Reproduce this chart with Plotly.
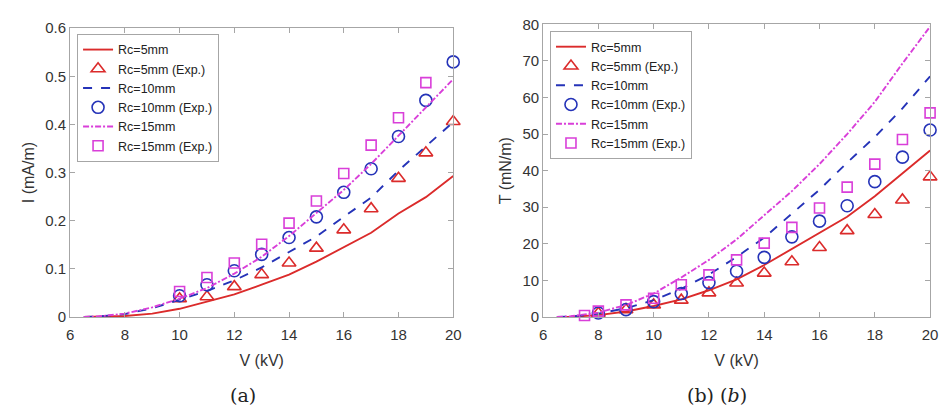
import plotly.graph_objects as go

# ---------------- data ----------------
v_line = [6.5, 7, 8, 9, 10, 11, 12, 13, 14, 15, 16, 17, 18, 19, 20]
I_rc5 = [0, 0.0005, 0.002, 0.007, 0.017, 0.032, 0.047, 0.067, 0.088, 0.115, 0.145, 0.175, 0.215, 0.249, 0.293]
I_rc10 = [0, 0.001, 0.006, 0.018, 0.036, 0.054, 0.076, 0.103, 0.135, 0.167, 0.208, 0.248, 0.304, 0.354, 0.405]
I_rc15 = [0, 0.001, 0.007, 0.02, 0.038, 0.06, 0.09, 0.125, 0.168, 0.215, 0.264, 0.318, 0.377, 0.437, 0.494]

v_expI = [10, 11, 12, 13, 14, 15, 16, 17, 18, 19, 20]
I_rc5_exp = [0.038, 0.042, 0.063, 0.088, 0.112, 0.143, 0.181, 0.225, 0.288, 0.341, 0.406]
I_rc10_exp = [0.044, 0.067, 0.096, 0.13, 0.165, 0.208, 0.259, 0.308, 0.375, 0.45, 0.53]
v_expI15 = [10, 11, 12, 13, 14, 15, 16, 17, 18, 19]
I_rc15_exp = [0.053, 0.082, 0.112, 0.151, 0.195, 0.241, 0.298, 0.357, 0.414, 0.487]

T_rc5 = [0, 0.05, 0.5, 1.5, 3.0, 4.8, 7.3, 10.3, 14.2, 18.6, 23.0, 27.4, 33.0, 39.2, 45.5]
T_rc10 = [0, 0.1, 0.9, 2.4, 4.6, 7.7, 11.6, 16.4, 21.7, 28.2, 34.8, 42.2, 49.2, 57.0, 65.8]
T_rc15 = [0, 0.2, 1.2, 3.3, 6.4, 10.8, 15.6, 21.2, 27.8, 34.4, 41.8, 50.0, 58.8, 69.3, 79.4]

v_expT = [8, 9, 10, 11, 12, 13, 14, 15, 16, 17, 18, 19, 20]
T_rc5_exp = [1.0, 2.0, 3.3, 4.6, 6.6, 9.3, 12.0, 15.1, 19.0, 23.6, 28.0, 32.0, 38.3]
T_rc10_exp = [1.1, 2.0, 4.2, 6.4, 9.4, 12.5, 16.3, 21.9, 26.2, 30.4, 37.0, 43.7, 51.1]
v_expT15 = [7.5, 8, 9, 10, 11, 12, 13, 14, 15, 16, 17, 18, 19, 20]
T_rc15_exp = [0.4, 1.6, 3.3, 5.1, 8.8, 11.5, 15.6, 20.2, 24.5, 29.8, 35.5, 41.8, 48.5, 55.8]

names = ["Rc=5mm", "Rc=5mm (Exp.)", "Rc=10mm", "Rc=10mm (Exp.)", "Rc=15mm", "Rc=15mm (Exp.)"]
x_ticks = [6, 8, 10, 12, 14, 16, 18, 20]

RED = "#db2b2b"
BLUE = "#2533b8"
MAG = "#d93fd9"

fig = go.Figure()

def add_panel(xa, ya, leg, ylines, yexps, xexps):
    styles = [(RED, "solid"), (BLUE, "dash"), (MAG, "6px,2px,2px,2px")]
    symbols = ["triangle-up-open", "circle-open", "square-open"]
    sizes = [12, 12, 10]
    for i in range(3):
        c, d = styles[i]
        fig.add_trace(go.Scatter(x=v_line, y=ylines[i], mode="lines", name=names[2 * i],
                                 line=dict(color=c, width=1.9, dash=d),
                                 xaxis=xa, yaxis=ya, legend=leg))
        fig.add_trace(go.Scatter(x=xexps[i], y=yexps[i], mode="markers", name=names[2 * i + 1],
                                 marker=dict(symbol=symbols[i], size=sizes[i], color=c,
                                             line=dict(color=c, width=1.6)),
                                 cliponaxis=False, xaxis=xa, yaxis=ya, legend=leg))

add_panel("x", "y", "legend", [I_rc5, I_rc10, I_rc15],
          [I_rc5_exp, I_rc10_exp, I_rc15_exp], [v_expI, v_expI, v_expI15])
add_panel("x2", "y2", "legend2", [T_rc5, T_rc10, T_rc15],
          [T_rc5_exp, T_rc10_exp, T_rc15_exp], [v_expT, v_expT, v_expT15])

W, H = 945, 419
axcol = "#a6a6a6"
tickfont = dict(family="Liberation Sans, Arial", size=15, color="#333333")
titlefont = dict(family="Liberation Sans, Arial", size=16, color="#333333")
common = dict(showline=True, linecolor=axcol, linewidth=1, mirror="ticks", ticks="inside",
              ticklen=5, tickcolor=axcol, showgrid=False, zeroline=False, tickfont=tickfont)
legfont = dict(family="Liberation Sans, Arial", size=12.5, color="#222222")

fig.update_layout(
    width=W, height=H, margin=dict(l=0, r=0, t=0, b=0),
    paper_bgcolor="white", plot_bgcolor="white",
    xaxis=dict(domain=[67 / W, 455 / W], range=[6, 20], tickvals=x_ticks, ticklabelstandoff=4,
               title=dict(text="V (kV)", font=titlefont, standoff=12), anchor="y", **common),
    yaxis=dict(domain=[1 - 321 / H, 1 - 20 / H], range=[0, 0.6], dtick=0.1,
               title=dict(text="I (mA/m)", font=titlefont, standoff=6), anchor="x", **common),
    xaxis2=dict(domain=[546 / W, 938 / W], range=[6, 20], tickvals=x_ticks, ticklabelstandoff=4,
                title=dict(text="V (kV)", font=titlefont, standoff=12), anchor="y2", **common),
    yaxis2=dict(domain=[1 - 321 / H, 1 - 16 / H], range=[0, 80], dtick=10,
                title=dict(text="T (mN/m)", font=titlefont, standoff=6), anchor="x2", **common),
    legend=dict(x=74 / W, y=1 - 26 / H, xanchor="left", yanchor="top",
                bgcolor="white", bordercolor=axcol, borderwidth=1, font=legfont,
                tracegroupgap=0, itemwidth=30),
    legend2=dict(x=553 / W, y=1 - 23 / H, xanchor="left", yanchor="top",
                 bgcolor="white", bordercolor=axcol, borderwidth=1, font=legfont,
                 tracegroupgap=0, itemwidth=30),
    annotations=[
        dict(text="(a)", x=242 / W, y=1 - 402 / H, xref="paper", yref="paper",
             xanchor="center", yanchor="middle", showarrow=False,
             font=dict(family="DejaVu Serif, serif", size=19, color="#222222")),
        dict(text="(b) (<i>b</i>)", x=722 / W, y=1 - 402 / H, xref="paper", yref="paper",
             xanchor="center", yanchor="middle", showarrow=False,
             font=dict(family="DejaVu Serif, serif", size=19, color="#222222")),
    ],
)

fig.write_html("out.html")
